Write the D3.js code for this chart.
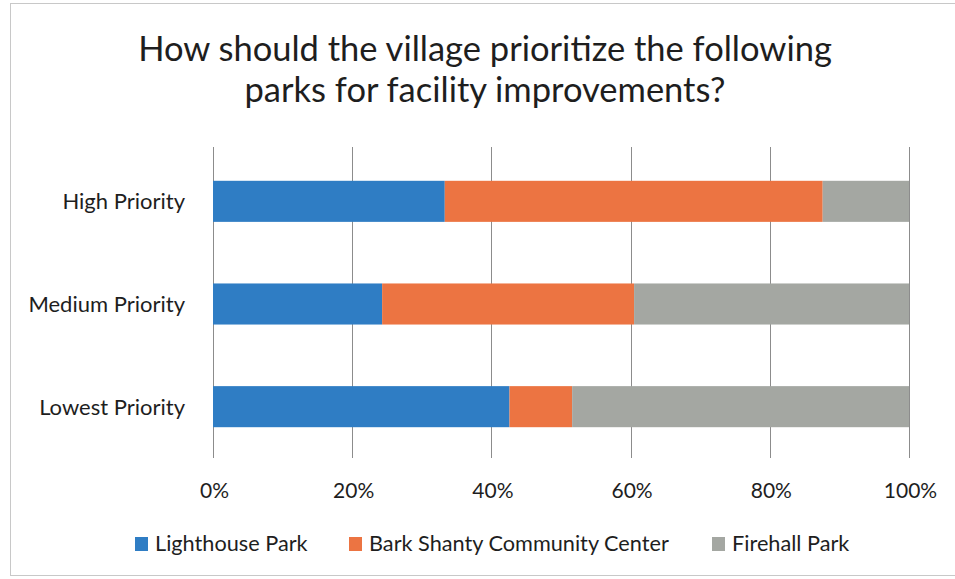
<!DOCTYPE html>
<html>
<head>
<meta charset="utf-8">
<script src="https://cdn.jsdelivr.net/npm/d3@7"></script>
<style>
  html, body { margin: 0; padding: 0; background: #fff; }
  svg { display: block; }
  text { font-family: Lato, "Open Sans", sans-serif; fill: #1e1e1e; }
</style>
</head>
<body>
<svg id="chart" width="955" height="579"></svg>
<script>
// Survey answers: share of responses (%) per priority level
const categories = ["High Priority", "Medium Priority", "Lowest Priority"];
const seriesNames = ["Lighthouse Park", "Bark Shanty Community Center", "Firehall Park"];
const lighthousePark = [33.3, 24.3, 42.6];
const barkShanty = [54.3, 36.2, 9.0];
const firehallPark = [12.4, 39.5, 48.4];
const tickValues = [0, 20, 40, 60, 80, 100];
const titleLines = ["How should the village prioritize the following", "parks for facility improvements?"];
const colors = ["#2f7dc4", "#ec7442", "#a4a7a2"];

const rows = categories.map((c, i) => ({
  category: c,
  [seriesNames[0]]: lighthousePark[i],
  [seriesNames[1]]: barkShanty[i],
  [seriesNames[2]]: firehallPark[i]
}));

const svg = d3.select("#chart");

// outer frame
svg.append("rect")
  .attr("x", 10.5).attr("y", 3.5)
  .attr("width", 960).attr("height", 572)
  .attr("fill", "none").attr("stroke", "#c8c8c8").attr("stroke-width", 1);

const x = d3.scaleLinear().domain([0, 100]).range([213, 909]);
const y = d3.scaleBand().domain(categories).range([150, 458])
  .paddingInner(0.6).paddingOuter(0.3);

// vertical gridlines
svg.append("g")
  .selectAll("line")
  .data(tickValues)
  .join("line")
  .attr("x1", d => Math.round(x(d)) + 0.5)
  .attr("x2", d => Math.round(x(d)) + 0.5)
  .attr("y1", 147).attr("y2", 458)
  .attr("stroke", "#8c8c8c").attr("stroke-width", 1);

// stacked bars
const stack = d3.stack().keys(seriesNames);
const layers = stack(rows);
const color = d3.scaleOrdinal().domain(seriesNames).range(colors);

svg.append("g")
  .selectAll("g")
  .data(layers)
  .join("g")
  .attr("fill", d => color(d.key))
  .selectAll("rect")
  .data(d => d)
  .join("rect")
  .attr("x", d => x(d[0]))
  .attr("width", d => x(d[1]) - x(d[0]))
  .attr("y", d => y(d.data.category))
  .attr("height", y.bandwidth());

// x axis labels
const xAxis = d3.axisBottom(x)
  .tickValues(tickValues)
  .tickFormat(d => d + "%")
  .tickSize(0)
  .tickPadding(0);
const gx = svg.append("g").attr("transform", "translate(1,498)").call(xAxis);
gx.select(".domain").remove();
gx.selectAll("text")
  .attr("dy", "0")
  .attr("y", 0)
  .style("font-size", "21px")
  .style("font-family", "Lato, sans-serif")
  .attr("fill", "#1e1e1e");

// y axis labels
const yAxis = d3.axisLeft(y).tickSize(0).tickPadding(0);
const gy = svg.append("g").attr("transform", "translate(185,1)").call(yAxis);
gy.select(".domain").remove();
gy.selectAll("text")
  .style("font-size", "22px")
  .style("font-family", "Lato, sans-serif")
  .attr("fill", "#1e1e1e");

// title
svg.append("g")
  .selectAll("text")
  .data(titleLines)
  .join("text")
  .attr("x", 485)
  .attr("y", (d, i) => 61 + i * 41)
  .attr("text-anchor", "middle")
  .style("font-size", "34.5px")
  .text(d => d);

// legend
const legendX = [135, 349, 712];
const legend = svg.append("g")
  .selectAll("g")
  .data(seriesNames)
  .join("g")
  .attr("transform", (d, i) => `translate(${legendX[i]},537)`);
legend.append("rect")
  .attr("width", 13).attr("height", 14)
  .attr("fill", d => color(d));
legend.append("text")
  .attr("x", 20).attr("y", 14)
  .style("font-size", "21.7px")
  .text(d => d);
</script>
</body>
</html>
